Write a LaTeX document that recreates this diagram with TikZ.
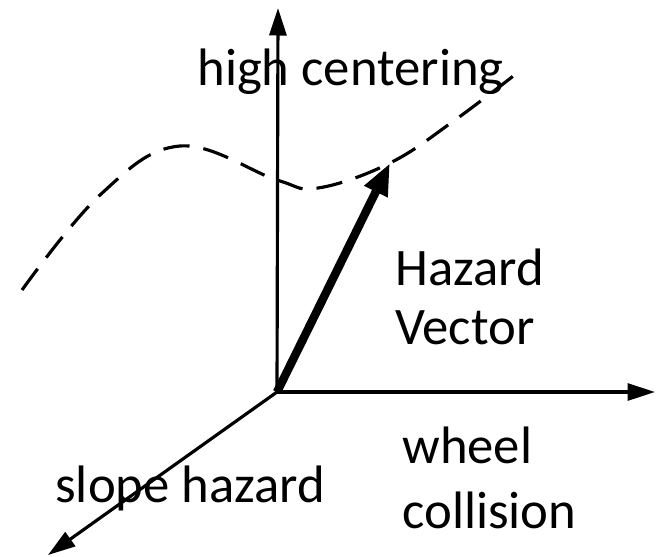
\documentclass[tikz,border=0pt]{standalone}
\usepackage{fontspec}
\setmainfont{Carlito}
\usepackage{tikz}
\usetikzlibrary{arrows.meta}

\begin{document}
\begin{tikzpicture}[x=0.02cm, y=-0.02cm]

% Styles
\tikzset{
  axis/.style={line width=1.8pt, -{Triangle[length=0.55cm, width=0.34cm]}},
  hazvec/.style={line width=4.8pt, -{Triangle[length=0.64cm, width=0.48cm]}},
  label/.style={inner sep=0pt, anchor=base west, font=\fontsize{30}{36}\selectfont}
}

\useasboundingbox (0,0) rectangle (656,556);

\coordinate (o)    at (277,392);
\coordinate (ytop) at (278,8);
\coordinate (xend) at (655,392);
\coordinate (zend) at (48,555);
\coordinate (tip)  at (390,163);

% Axes
\draw[axis] (o) -- (ytop);
\draw[axis] (o) -- (xend);
\draw[axis] (o) -- (zend);

% Dashed curve
\draw[line width=1.8pt, dash pattern=on 15pt off 8pt]
  plot[smooth, tension=0.65] coordinates {(22,290) (100,195) (180,146) (277,180) (318,188) (tip) (455,120) (521,70)};

% Hazard vector
\draw[hazvec] (o) -- (tip);

% Labels
\node[label] (high)  at (197,85)  {high centering};
\node[label] (haz)   at (395,285) {Hazard};
\node[label] (vec)   at (395,344) {Vector};
\node[label] (wheel) at (402,463) {wheel};
\node[label] (coll)  at (402,528) {collision};
\node[label] (slope) at (55,502)  {slope hazard};

\end{tikzpicture}
\end{document}
